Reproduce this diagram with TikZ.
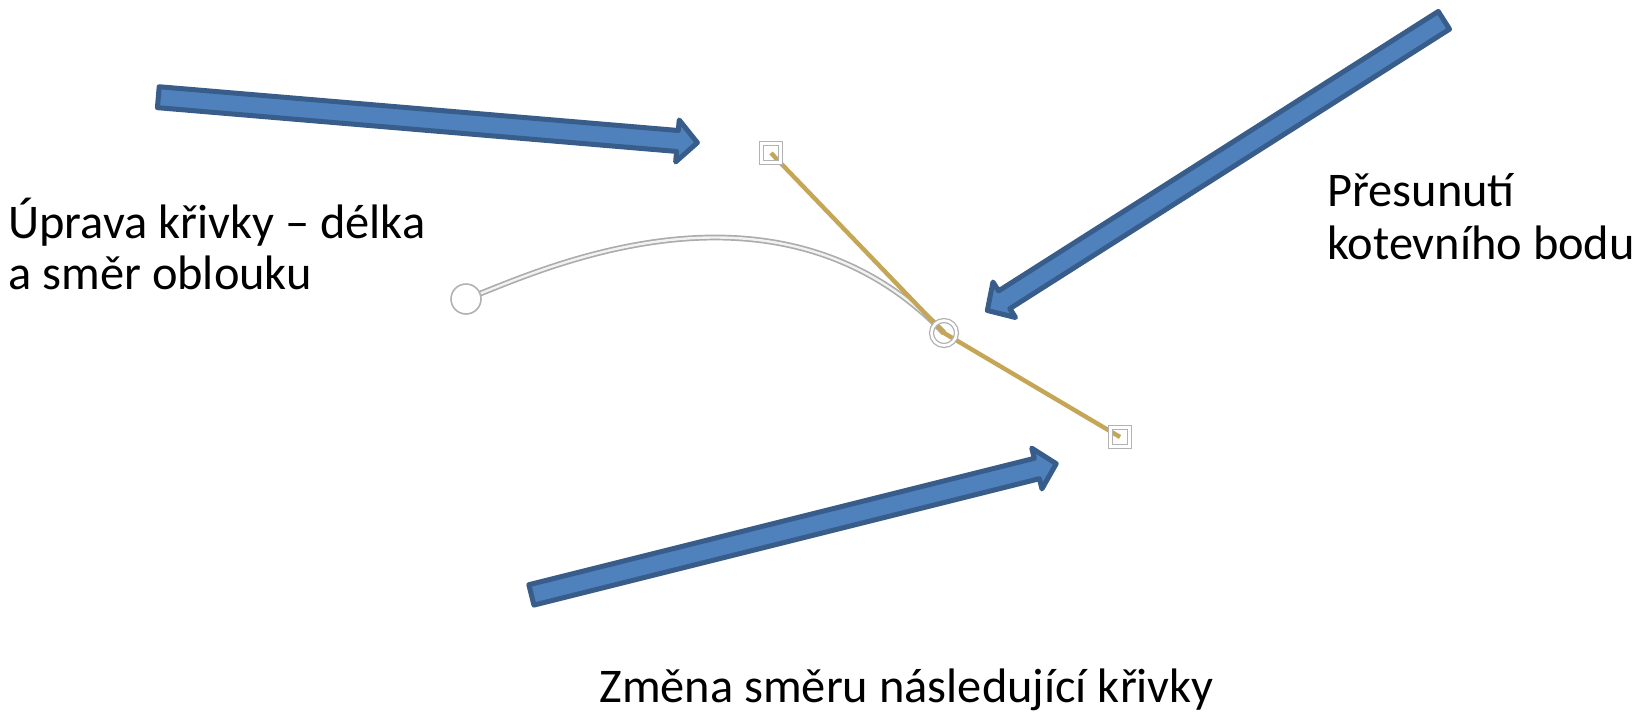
\documentclass[tikz,border=0pt]{standalone}
\usepackage{fontspec}
\setmainfont{Carlito}
\definecolor{arrfill}{RGB}{79,129,189}
\definecolor{arrline}{RGB}{56,93,138}
\definecolor{handlecol}{RGB}{196,166,86}
\newcommand\myarrow[3]{%
  \begin{scope}[shift={(#1,#2)},rotate=#3]
    \draw[bluearrow] (0,-10.5) -- (521,-10.5) -- (521,-21) -- (541,0) -- (521,21) -- (521,10.5) -- (0,10.5) -- cycle;
  \end{scope}}
\begin{document}
\begin{tikzpicture}[x=0.5pt,y=-0.5pt,
  bluearrow/.style={fill=arrfill,draw=arrline,line width=2.5pt,line join=round},
  lbl/.style={anchor=base west,inner sep=0pt,font=\fontsize{24.2}{29}\selectfont},
  curveline/.style={draw=gray!65,line width=0.85pt,double=gray!10,double distance=1.2pt},
  handleline/.style={draw=handlecol,line width=2.2pt},
  startpt/.style={circle,draw=gray!60,line width=0.8pt,fill=white,minimum size=15pt,inner sep=0pt},
  anchorpt/.style={circle,draw=gray!60,line width=0.65pt,double=white,double distance=1.3pt,minimum size=12.5pt,inner sep=0pt},
  handlesq/.style={rectangle,draw=gray!60,line width=0.65pt,double=white,double distance=1.3pt,minimum size=9.5pt,inner sep=0pt}]
\useasboundingbox (0,0) rectangle (1641,712);
\coordinate (s) at (466,299);
\coordinate (a) at (944,333);
\coordinate (p) at (771,153);
\coordinate (q) at (1120,437);
\coordinate (c1) at (523,279);
% curve
\draw[curveline] (s) .. controls (c1) and (p) .. (a);
% handle line
\draw[handleline,line join=round] (p) -- (a) -- (q);
% points
\node[startpt] (start) at (s) {};
\node[anchorpt] (anch) at (a) {};
\node[handlesq] (h1) at (p) {};
\node[handlesq] (h2) at (q) {};
% arrows
\myarrow{158.3}{97.2}{-4.82}
\myarrow{1443.9}{20.3}{212.44}
\myarrow{531.4}{594.9}{14.04}
% labels
\node[lbl] (t1a) at (8,238) {Úprava křivky – délka};
\node[lbl] (t1b) at (8,289) {a směr oblouku};
\node[lbl] (t2a) at (1327,206) {Přesunutí};
\node[lbl] (t2b) at (1327,259) {kotevního bodu};
\node[lbl] (t3) at (599,702) {Změna směru následující křivky};
\end{tikzpicture}
\end{document}
